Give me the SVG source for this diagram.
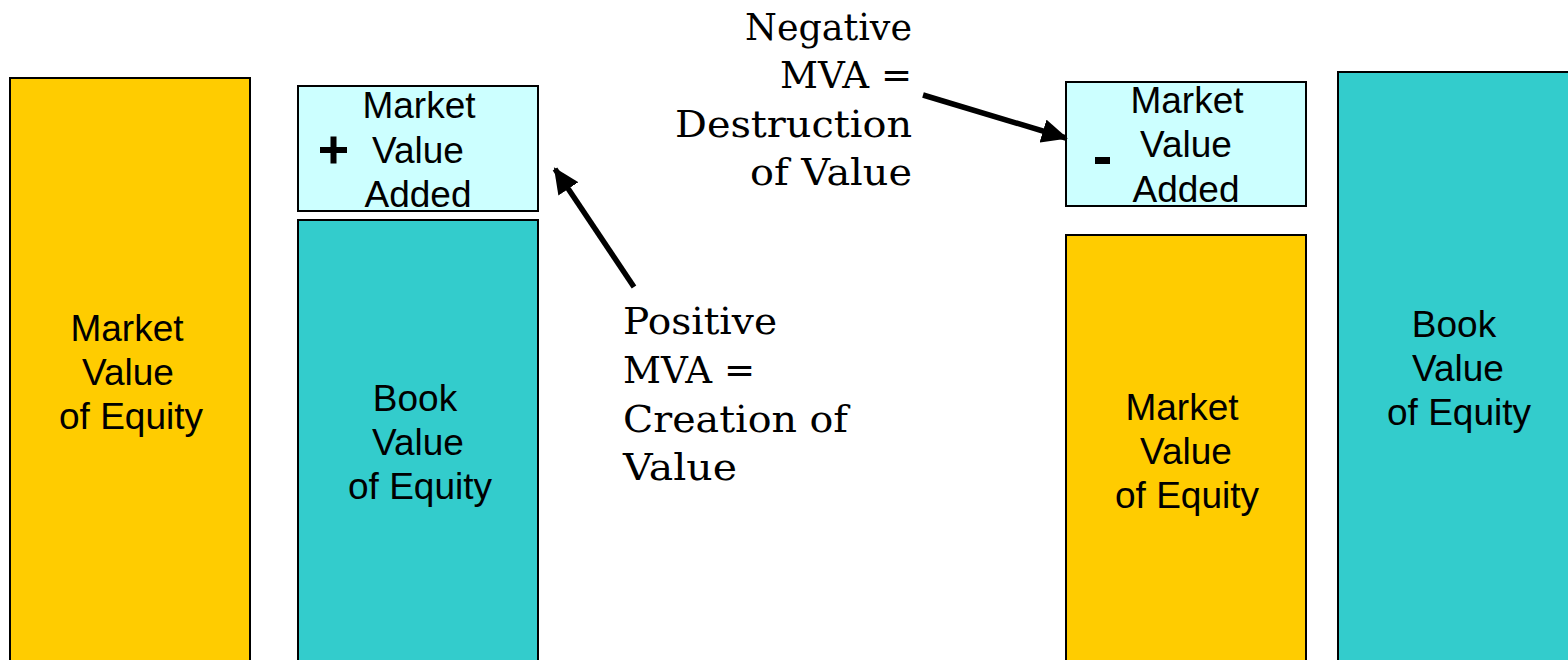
<svg xmlns="http://www.w3.org/2000/svg" width="1568" height="660" viewBox="0 0 1568 660">
<style>
.box{stroke:#000;stroke-width:2}
.y{fill:#FFCC00}
.t{fill:#33CCCC}
.c{fill:#CCFFFF}
.s{font-family:"Liberation Sans",Arial,sans-serif;font-size:37px;fill:#000;text-anchor:middle}
.r{font-family:"DejaVu Serif","Liberation Serif",serif;font-size:37px;fill:#000}
.a{stroke:#000;stroke-width:5.5;fill:none}
</style>
<defs>
<marker id="ah" markerUnits="userSpaceOnUse" markerWidth="28" markerHeight="24" refX="24" refY="12" orient="auto">
<path d="M0,0 L26,12 L0,24 Z" fill="#000"/>
</marker>
</defs>
<rect width="1568" height="660" fill="#fff"/>
<g id="mv-left">
<rect class="box y" x="10" y="78" width="240" height="600"/>
<text class="s" x="127" y="341">Market</text>
<text class="s" x="128" y="385">Value</text>
<text class="s" x="131" y="429">of Equity</text>
</g>
<g id="mva-plus">
<rect class="box c" x="298" y="86" width="240" height="125"/>
<text class="s" x="419" y="118">Market</text>
<text class="s" x="418" y="163">Value</text>
<text class="s" x="418" y="207">Added</text>
<path d="M320,150 H347 M333.5,136.5 V163.5" stroke="#000" stroke-width="6"/>
</g>
<g id="bv-left">
<rect class="box t" x="298" y="220" width="240" height="460"/>
<text class="s" x="415" y="411">Book</text>
<text class="s" x="418" y="455">Value</text>
<text class="s" x="420" y="499">of Equity</text>
</g>
<g id="pos-label">
<text class="r" x="623" y="334" textLength="154" lengthAdjust="spacingAndGlyphs">Positive</text>
<text class="r" x="623" y="383" textLength="132" lengthAdjust="spacingAndGlyphs">MVA =</text>
<text class="r" x="623" y="432" textLength="225" lengthAdjust="spacingAndGlyphs">Creation of</text>
<text class="r" x="623" y="480" textLength="114" lengthAdjust="spacingAndGlyphs">Value</text>
</g>
<g id="neg-label">
<text class="r" x="745" y="40" textLength="167" lengthAdjust="spacingAndGlyphs">Negative</text>
<text class="r" x="780" y="88" textLength="132" lengthAdjust="spacingAndGlyphs">MVA =</text>
<text class="r" x="675" y="137" textLength="237" lengthAdjust="spacingAndGlyphs">Destruction</text>
<text class="r" x="750" y="185" textLength="162" lengthAdjust="spacingAndGlyphs">of Value</text>
</g>
<g id="mva-minus">
<rect class="box c" x="1066" y="82" width="240" height="124"/>
<text class="s" x="1187" y="113">Market</text>
<text class="s" x="1186" y="157">Value</text>
<text class="s" x="1186" y="202">Added</text>
<rect x="1095" y="157" width="15" height="7" fill="#000"/>
</g>
<g id="mv-right">
<rect class="box y" x="1066" y="235" width="240" height="445"/>
<text class="s" x="1182" y="420">Market</text>
<text class="s" x="1186" y="464">Value</text>
<text class="s" x="1187" y="508">of Equity</text>
</g>
<g id="bv-right">
<rect class="box t" x="1338" y="72" width="250" height="608"/>
<text class="s" x="1454" y="337">Book</text>
<text class="s" x="1458" y="381">Value</text>
<text class="s" x="1459" y="425">of Equity</text>
</g>
<g id="connectors">
<line class="a" x1="634" y1="287" x2="555" y2="169" marker-end="url(#ah)"/>
<line class="a" x1="923" y1="95" x2="1066" y2="138" marker-end="url(#ah)"/>
</g>
</svg>
